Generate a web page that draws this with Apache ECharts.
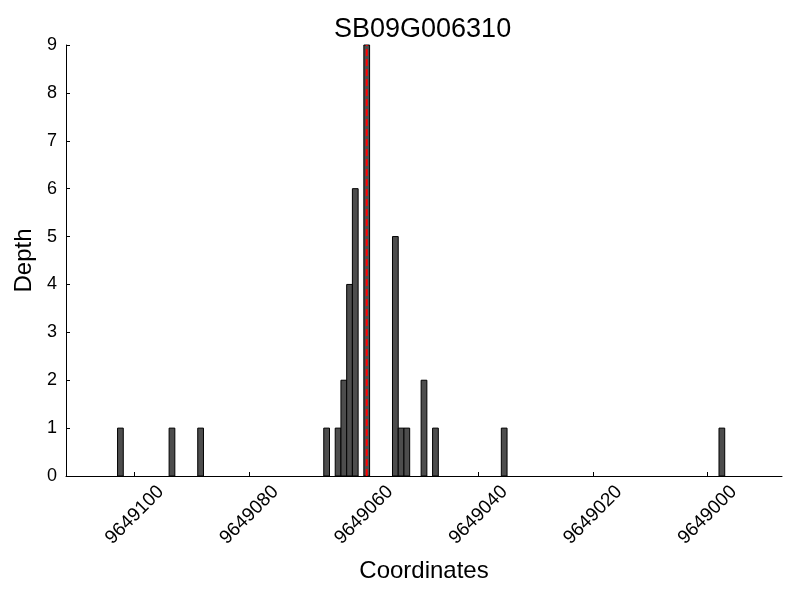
<!DOCTYPE html>
<html>
<head>
<meta charset="utf-8">
<script src="https://cdn.jsdelivr.net/npm/echarts@6/dist/echarts.min.js"></script>
<style>html,body{margin:0;padding:0;background:#fff}#c{width:800px;height:600px}</style>
</head>
<body>
<div id="c"></div>
<script>
const titleText = "SB09G006310";
const positions = [9649102, 9649093, 9649088, 9649066, 9649064, 9649063, 9649062, 9649061, 9649059, 9649054, 9649053, 9649052, 9649049, 9649047, 9649035, 9648997];
const depths = [1, 1, 1, 1, 1, 2, 4, 6, 9, 5, 1, 1, 2, 1, 1, 1];
const xTicks = [9649000, 9649020, 9649040, 9649060, 9649080, 9649100];
const markerPos = 9649059.5;
const xMin = 9648987, xMax = 9649112;
const yMax = 9;

const font = "'Liberation Sans', Arial, sans-serif";
const chart = echarts.init(document.getElementById('c'), null, {renderer: 'canvas'});
chart.setOption({
  animation: false,
  backgroundColor: '#fff',
  title: {
    text: titleText, left: 329, top: 11,
    textStyle: {fontFamily: font, fontSize: 27, fontWeight: 'normal', color: '#000'}
  },
  grid: {left: 66, right: 18, top: 45, bottom: 124, containLabel: false, outerBoundsMode: 'none'},
  xAxis: {
    type: 'value', inverse: true, min: xMin, max: xMax,
    name: 'Coordinates', nameLocation: 'middle', nameGap: 83,
    nameTextStyle: {fontFamily: font, fontSize: 24, color: '#000'},
    axisLine: {show: true, lineStyle: {color: '#000', width: 1}},
    axisTick: {show: true, inside: true, length: 4, customValues: xTicks, lineStyle: {color: '#000'}},
    axisLabel: {
      customValues: xTicks, rotate: 45, align: 'center', verticalAlign: 'middle', margin: 39,
      fontFamily: font, fontSize: 19, color: '#000',
      formatter: v => String(v)
    },
    splitLine: {show: false}
  },
  yAxis: {
    type: 'value', min: 0, max: yMax, interval: 1,
    name: 'Depth', nameLocation: 'middle', nameGap: 29,
    nameTextStyle: {fontFamily: font, fontSize: 24, color: '#000'},
    axisLine: {show: true, lineStyle: {color: '#000', width: 1}},
    axisTick: {show: true, inside: true, length: 4, lineStyle: {color: '#000'}},
    axisLabel: {margin: 9, fontFamily: font, fontSize: 18, color: '#000'},
    splitLine: {show: false}
  },
  series: [
    {
      type: 'custom',
      data: positions.map((p, i) => [p, depths[i]]),
      renderItem: function (params, api) {
        const v = api.value(0), d = api.value(1);
        const p0 = api.coord([v, 0]);
        const p1 = api.coord([v + 1, d]);
        const x = Math.min(p0[0], p1[0]);
        const w = Math.abs(p1[0] - p0[0]);
        return {
          type: 'rect',
          shape: {x: x, y: p1[1], width: w, height: p0[1] - p1[1]},
          style: {fill: '#4d4d4d', stroke: '#000', lineWidth: 1}
        };
      },
      z: 2
    },
    {
      type: 'line',
      data: [[markerPos, 0], [markerPos, yMax]],
      symbol: 'none',
      lineStyle: {color: '#ff0000', width: 2, type: [7, 3]},
      z: 5
    }
  ]
});
</script>
</body>
</html>
